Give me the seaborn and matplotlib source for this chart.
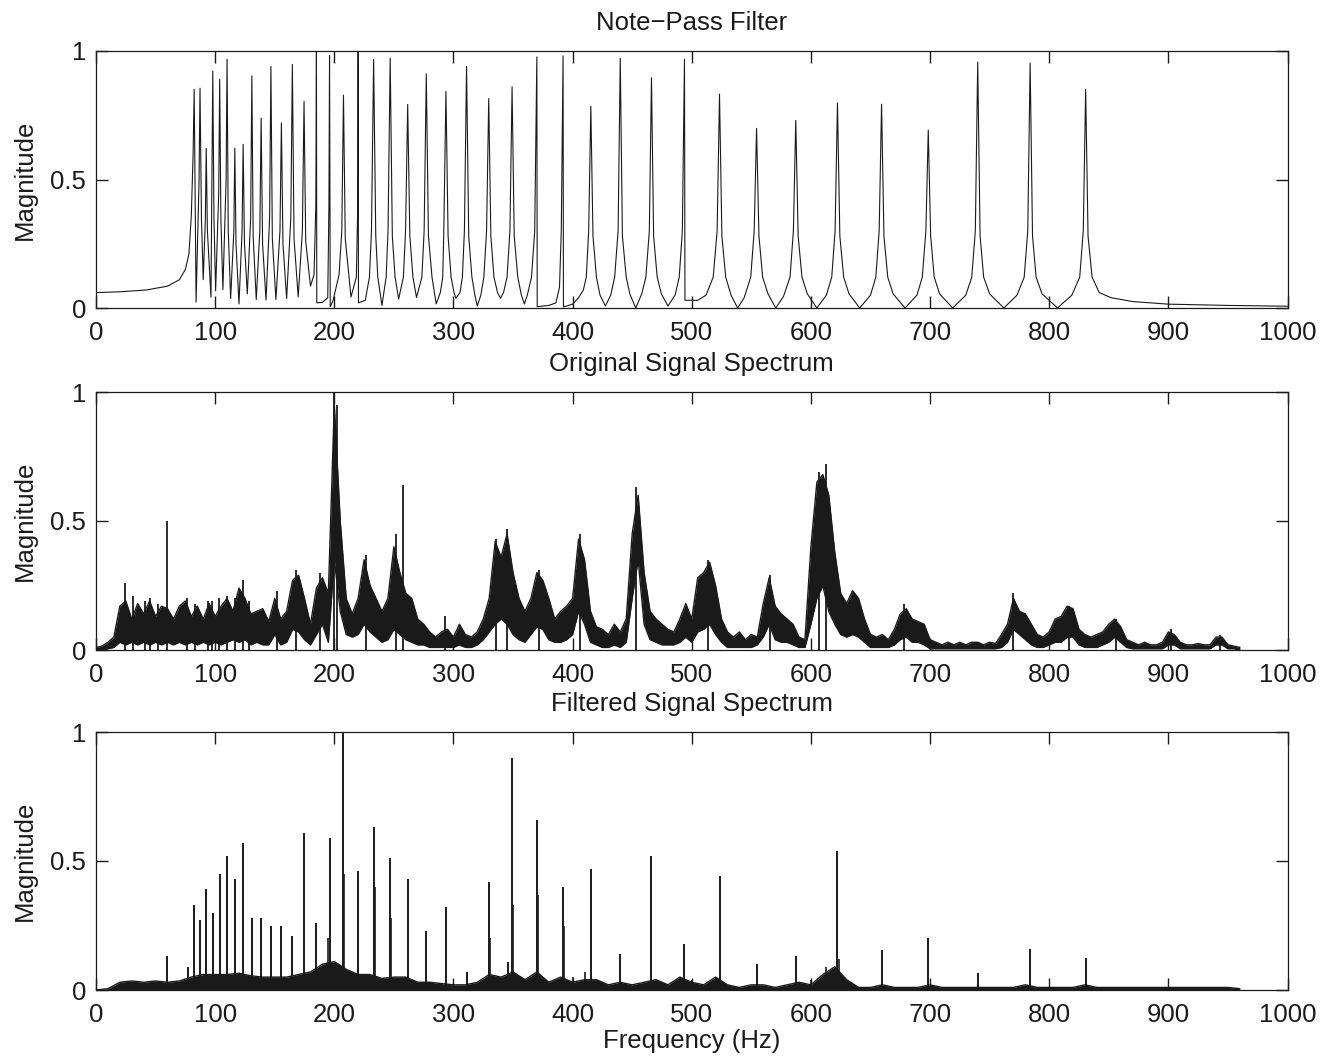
import numpy as np
import matplotlib
matplotlib.use("Agg")
import matplotlib.pyplot as plt
import seaborn as sns

# ---------------- data ----------------
# Panel 1: note-pass filter magnitude response (vertices of the curve)
filter_freq = [
    0, 20, 42, 60, 70, 75, 78, 80, 81.5, 82.4, 84, 86.5, 87.3, 88.5, 90, 91.8, 92.5, 93.5,
    96.5, 97.3, 98, 99, 100.4, 103, 103.8, 104.8, 106.5, 109.2, 110, 111, 113, 115.7, 116.5,
    117.5, 120, 122.6, 123.5, 124.6, 127, 129.8, 130.8, 131.9, 134.5, 137.5, 138.6, 139.8,
    142.7, 145.7, 146.8, 148, 151, 154.4, 155.6, 156.9, 160, 163.5, 164.8, 166.2, 169.7,
    173.2, 174.6, 176, 180, 183, 184.5, 185, 185.3, 190, 194.5, 195.5, 196, 196.6, 199,
    204, 206.3, 207.7, 209.2, 214, 218.5, 219.7, 220, 220.3,
    226, 229.5, 231.2, 233, 234.8, 236.5, 240, 243.5, 245.1, 246.9, 248.7, 251, 254, 258,
    259.8, 261.6, 263.4, 266, 269, 273.5, 275.4, 277.2, 279, 282, 285.5, 289, 291, 291.9,
    293.7, 295.5, 298, 300.5, 302, 305.5, 307.5, 309.2, 311, 312.8, 315.5, 318, 320, 323,
    325.5, 327.8, 329.6, 331.4, 334, 337, 339.5, 342, 345, 347.4, 349.2, 351, 354, 357,
    359.5, 362, 365.5, 368.2, 370, 370.3, 380, 386, 389, 390.5, 392, 392.3, 400, 405, 409,
    411.5, 413.5, 415.3, 417.1, 420, 423, 427.5, 432, 435.3, 438.2, 440, 441.8, 445, 448,
    453, 458, 461.5, 464.4, 466.2, 468, 471, 474.5, 480, 486, 489.5, 492.1, 493.9, 494.3,
    505, 512, 518, 521.3, 523.3, 525.3, 528.5, 533, 538.5, 544, 549.5, 552.4, 554.4, 556.4,
    559.5, 564, 570.5, 577, 582.5, 585.3, 587.3, 589.3, 592.5, 597, 605, 613, 617.5, 620.3,
    622.3, 624.3, 627.5, 632, 641, 650, 654.5, 657.3, 659.3, 661.3, 664.5, 669, 679, 689,
    693.5, 696.5, 698.5, 700.5, 703.5, 708, 719, 730, 735, 738, 740, 742, 745, 750, 762,
    773, 779, 782, 784, 786, 789, 794, 807, 819, 825.6, 828.6, 830.6, 832.6, 836, 842, 852,
    870, 900, 950, 1000]
filter_mag = [
    0.060, 0.063, 0.07, 0.085, 0.11, 0.15, 0.21, 0.36, 0.6, 0.851, 0.023, 0.5, 0.855, 0.35,
    0.11, 0.35, 0.621, 0.3, 0.042, 0.5, 0.922, 0.35, 0.067, 0.45, 0.89, 0.35, 0.072, 0.5,
    0.968, 0.3, 0.037, 0.3, 0.622, 0.25, 0.016, 0.3, 0.637, 0.25, 0.055, 0.35, 0.903, 0.28,
    0.033, 0.3, 0.739, 0.25, 0.031, 0.35, 0.94, 0.27, 0.033, 0.3, 0.72, 0.25, 0.037, 0.35,
    0.948, 0.27, 0.043, 0.3, 0.804, 0.26, 0.085, 0.13, 0.4, 1.0, 0.02, 0.022, 0.04, 0.4,
    0.983, 0.005, 0.03, 0.13, 0.3, 0.828, 0.27, 0.043, 0.12, 0.4, 1.0, 0.02,
    0.03, 0.12, 0.3, 0.967, 0.28, 0.12, 0.01, 0.12, 0.3, 0.972, 0.28, 0.12, 0.035, 0.12,
    0.3, 0.792, 0.28, 0.12, 0.041, 0.12, 0.3, 0.911, 0.28, 0.12, 0.016, 0.06, 0.12, 0.3,
    0.843, 0.28, 0.12, 0.06, 0.038, 0.06, 0.12, 0.3, 0.94, 0.28, 0.12, 0.05, 0.008, 0.05,
    0.12, 0.3, 0.815, 0.28, 0.12, 0.06, 0.038, 0.06, 0.12, 0.3, 0.861, 0.28, 0.12, 0.05,
    0.016, 0.05, 0.12, 0.3, 0.977, 0.005, 0.01, 0.02, 0.08, 0.3, 0.981, 0.004, 0.015, 0.04,
    0.07, 0.12, 0.3, 0.785, 0.28, 0.12, 0.05, 0.008, 0.05, 0.12, 0.3, 0.972, 0.28, 0.12,
    0.055, 0.0, 0.055, 0.12, 0.3, 0.896, 0.28, 0.12, 0.055, 0.008, 0.05, 0.12, 0.3, 0.968,
    0.03, 0.03, 0.05, 0.12, 0.3, 0.832, 0.28, 0.12, 0.05, 0.0, 0.04, 0.12, 0.3, 0.699,
    0.28, 0.12, 0.055, 0.0, 0.045, 0.12, 0.3, 0.73, 0.28, 0.12, 0.055, 0.0, 0.05, 0.12, 0.3,
    0.798, 0.28, 0.12, 0.055, 0.0, 0.05, 0.12, 0.3, 0.793, 0.28, 0.12, 0.055, 0.0, 0.05,
    0.12, 0.3, 0.692, 0.28, 0.12, 0.055, 0.0, 0.05, 0.12, 0.3, 0.957, 0.28, 0.12, 0.055,
    0.0, 0.05, 0.12, 0.3, 0.953, 0.28, 0.12, 0.055, 0.0, 0.05, 0.12, 0.3, 0.851, 0.28,
    0.12, 0.06, 0.04, 0.025, 0.015, 0.01, 0.007]

# Panel 2: original signal spectrum, min / max envelope sampled every 5 Hz (0..960)
orig_freq = np.arange(0, 961, 5)
orig_hi = [
    0.01, 0.015, 0.03, 0.05, 0.17, 0.19, 0.12, 0.18, 0.14, 0.19,
    0.13, 0.17, 0.16, 0.12, 0.17, 0.19, 0.13, 0.17, 0.12, 0.18,
    0.13, 0.17, 0.20, 0.15, 0.24, 0.20, 0.14, 0.15, 0.16, 0.11,
    0.20, 0.12, 0.15, 0.27, 0.29, 0.20, 0.10, 0.24, 0.28, 0.22,
    0.95, 0.50, 0.20, 0.14, 0.20, 0.35, 0.25, 0.20, 0.15, 0.20,
    0.40, 0.30, 0.22, 0.20, 0.12, 0.10, 0.07, 0.05, 0.07, 0.08,
    0.05, 0.10, 0.06, 0.05, 0.07, 0.12, 0.20, 0.42, 0.36, 0.45,
    0.30, 0.20, 0.15, 0.20, 0.30, 0.27, 0.20, 0.12, 0.15, 0.17,
    0.20, 0.43, 0.35, 0.15, 0.09, 0.08, 0.06, 0.10, 0.07, 0.12,
    0.45, 0.60, 0.30, 0.15, 0.12, 0.10, 0.08, 0.07, 0.12, 0.18,
    0.12, 0.28, 0.30, 0.34, 0.25, 0.12, 0.07, 0.05, 0.07, 0.04,
    0.06, 0.05, 0.18, 0.28, 0.17, 0.14, 0.12, 0.10, 0.05, 0.04,
    0.40, 0.65, 0.68, 0.60, 0.38, 0.22, 0.18, 0.23, 0.20, 0.12,
    0.06, 0.05, 0.06, 0.04, 0.08, 0.14, 0.16, 0.12, 0.11, 0.10,
    0.04, 0.03, 0.02, 0.03, 0.02, 0.03, 0.02, 0.03, 0.03, 0.02,
    0.03, 0.025, 0.06, 0.10, 0.20, 0.15, 0.14, 0.10, 0.06, 0.05,
    0.07, 0.12, 0.13, 0.17, 0.16, 0.08, 0.06, 0.05, 0.06, 0.07,
    0.10, 0.12, 0.09, 0.04, 0.03, 0.02, 0.03, 0.02, 0.02, 0.03,
    0.07, 0.06, 0.03, 0.02, 0.02, 0.025, 0.02, 0.02, 0.05, 0.05,
    0.02, 0.015, 0.01]
orig_lo = [
    0.0, 0.0, 0.005, 0.01, 0.03, 0.02, 0.03, 0.02, 0.03, 0.02,
    0.03, 0.02, 0.03, 0.02, 0.03, 0.02, 0.03, 0.02, 0.03, 0.02,
    0.03, 0.02, 0.03, 0.04, 0.03, 0.04, 0.02, 0.03, 0.02, 0.02,
    0.06, 0.02, 0.03, 0.08, 0.07, 0.04, 0.02, 0.06, 0.10, 0.03,
    0.35, 0.15, 0.06, 0.05, 0.06, 0.10, 0.07, 0.05, 0.03, 0.04,
    0.08, 0.06, 0.04, 0.03, 0.02, 0.02, 0.01, 0.01, 0.01, 0.01,
    0.01, 0.02, 0.01, 0.01, 0.02, 0.04, 0.07, 0.10, 0.12, 0.10,
    0.06, 0.04, 0.03, 0.06, 0.09, 0.08, 0.04, 0.03, 0.03, 0.04,
    0.06, 0.15, 0.10, 0.03, 0.02, 0.01, 0.01, 0.02, 0.01, 0.03,
    0.20, 0.35, 0.10, 0.04, 0.03, 0.02, 0.02, 0.02, 0.03, 0.05,
    0.03, 0.07, 0.08, 0.10, 0.06, 0.03, 0.01, 0.01, 0.01, 0.01,
    0.01, 0.02, 0.05, 0.10, 0.04, 0.03, 0.03, 0.02, 0.01, 0.01,
    0.10, 0.20, 0.25, 0.15, 0.10, 0.06, 0.05, 0.06, 0.05, 0.03,
    0.01, 0.01, 0.01, 0.01, 0.02, 0.04, 0.05, 0.03, 0.03, 0.02,
    0.005, 0.005, 0.005, 0.005, 0.005, 0.005, 0.005, 0.005, 0.005, 0.005,
    0.005, 0.005, 0.01, 0.03, 0.08, 0.06, 0.04, 0.02, 0.01, 0.01,
    0.02, 0.03, 0.03, 0.05, 0.05, 0.02, 0.01, 0.01, 0.01, 0.02,
    0.03, 0.05, 0.03, 0.01, 0.005, 0.005, 0.005, 0.005, 0.005, 0.005,
    0.02, 0.02, 0.005, 0.005, 0.005, 0.005, 0.005, 0.005, 0.02, 0.02,
    0.005, 0.005, 0.0]
# isolated spikes of the original spectrum
orig_spike_freq = [24, 31, 41, 45, 52, 60, 76, 83, 94, 97, 103, 110, 117, 123, 128, 152,
                   168, 188, 200, 202, 227, 252, 258, 293, 336, 345, 372, 406, 453, 514,
                   566, 607, 613, 678, 770, 817, 856, 902, 943]
orig_spike_mag = [0.26, 0.21, 0.19, 0.2, 0.18, 0.50, 0.20, 0.18, 0.19, 0.19, 0.2, 0.21,
                  0.2, 0.27, 0.19, 0.23, 0.31, 0.30, 1.0, 0.95, 0.37, 0.45, 0.64, 0.13,
                  0.43, 0.47, 0.31, 0.45, 0.63, 0.35, 0.29, 0.69, 0.72, 0.18, 0.22, 0.17,
                  0.12, 0.08, 0.06]

# Panel 3: filtered signal spectrum, noise floor every 10 Hz (0..960) and peaks
filt_freq = np.arange(0, 961, 10)
filt_floor = [
    0.0, 0.005, 0.03, 0.035, 0.03, 0.035, 0.03, 0.035, 0.05, 0.06,
    0.06, 0.06, 0.065, 0.055, 0.05, 0.05, 0.05, 0.06, 0.07, 0.10,
    0.11, 0.08, 0.06, 0.06, 0.045, 0.05, 0.05, 0.03, 0.03, 0.025,
    0.02, 0.02, 0.03, 0.06, 0.05, 0.07, 0.04, 0.07, 0.03, 0.05,
    0.03, 0.04, 0.04, 0.02, 0.03, 0.02, 0.03, 0.04, 0.02, 0.05,
    0.03, 0.02, 0.05, 0.02, 0.01, 0.02, 0.02, 0.01, 0.02, 0.03,
    0.02, 0.06, 0.09, 0.04, 0.01, 0.01, 0.02, 0.01, 0.01, 0.01,
    0.02, 0.01, 0.01, 0.01, 0.01, 0.01, 0.01, 0.01, 0.02, 0.01,
    0.01, 0.01, 0.01, 0.02, 0.01, 0.01, 0.01, 0.01, 0.01, 0.01,
    0.01, 0.01, 0.01, 0.01, 0.01, 0.01, 0.005]
filt_peak_freq = [60, 77, 82.4, 87.3, 92.5, 98, 103.8, 110, 116.5, 123.5, 130.8, 138.6,
                  146.8, 155.6, 164.8, 174.6, 185, 196, 207.7, 220, 233, 246.9, 261.6,
                  277.2, 293.7, 311, 329.6, 346, 349.2, 370, 392, 415.3, 440, 466.2,
                  493.9, 523.3, 554.4, 587.3, 622.3, 659.3, 698.5, 740, 784, 830.6]
filt_peak_mag = [0.13, 0.09, 0.33, 0.27, 0.39, 0.30, 0.45, 0.52, 0.43, 0.57, 0.28, 0.28,
                 0.25, 0.25, 0.21, 0.61, 0.26, 0.59, 1.0, 0.46, 0.63, 0.51, 0.43, 0.23,
                 0.32, 0.07, 0.42, 0.11, 0.90, 0.66, 0.40, 0.47, 0.14, 0.52, 0.18, 0.44,
                 0.10, 0.13, 0.54, 0.155, 0.20, 0.065, 0.16, 0.125]
filt_side_freq = [195, 208.5, 234, 248, 330.5, 350.3, 371, 393, 400.5, 410, 500, 600, 613, 624]
filt_side_mag = [0.2, 0.45, 0.4, 0.28, 0.2, 0.33, 0.37, 0.25, 0.05, 0.07, 0.04, 0.04, 0.09, 0.12]

titles = ["Note\u2212Pass Filter", "Original Signal Spectrum", "Filtered Signal Spectrum"]
xticks = list(range(0, 1001, 100))
xtick_labels = [str(t) for t in xticks]
yticks = [0, 0.5, 1]
ytick_labels = ["0", "0.5", "1"]

# ---------------- drawing ----------------
sns.set_theme(style="ticks")
plt.rcParams["font.family"] = ["Liberation Sans", "DejaVu Sans"]
plt.rcParams.update({"text.color": "k", "axes.labelcolor": "k",
                     "xtick.color": "k", "ytick.color": "k"})

FS = 18.5
fig = plt.figure(figsize=(13.34, 10.59), dpi=100)
W, H = 1334.0, 1059.0
boxes = [(51, 308), (392, 650), (732, 990)]
axes = []
for top, bot in boxes:
    ax = fig.add_axes([96 / W, 1 - bot / H, (1287.5 - 96) / W, (bot - top) / H])
    axes.append(ax)

# Panel 1
sns.lineplot(x=filter_freq, y=filter_mag, ax=axes[0], color="k", lw=0.8,
             estimator=None, sort=False)
# Panel 2
ax = axes[1]
ax.fill_between(orig_freq, orig_lo, orig_hi, color="k", lw=0)
sns.lineplot(x=orig_freq, y=orig_hi, ax=ax, color="k", lw=1.0, estimator=None, sort=False)
sns.lineplot(x=orig_freq, y=orig_lo, ax=ax, color="k", lw=1.0, estimator=None, sort=False)
ax.vlines(orig_spike_freq, 0, orig_spike_mag, color="k", lw=1.3)
# Panel 3
ax = axes[2]
ax.fill_between(filt_freq, 0, filt_floor, color="k", lw=0)
sns.lineplot(x=filt_freq, y=filt_floor, ax=ax, color="k", lw=1.0, estimator=None, sort=False)
ax.vlines(filt_peak_freq, 0, filt_peak_mag, color="k", lw=1.4)
ax.vlines(filt_side_freq, 0, filt_side_mag, color="k", lw=1.2)

for i, ax in enumerate(axes):
    ax.set_xlim(0, 1000)
    ax.set_ylim(0, 1)
    ax.set_xticks(xticks, labels=xtick_labels)
    ax.set_yticks(yticks, labels=ytick_labels)
    ax.tick_params(axis="x", direction="in", length=8.5, width=1.0, color="k",
                   labelcolor="k", labelsize=FS, pad=9, top=True, bottom=True)
    ax.tick_params(axis="y", direction="in", length=8.5, width=1.0, color="k",
                   labelcolor="k", labelsize=FS, pad=7, left=True, right=True)
    for s in ax.spines.values():
        s.set_visible(True)
        s.set_color("k")
        s.set_linewidth(0.9)
    ax.set_ylabel("Magnitude", fontsize=FS, labelpad=10, color="k")
    ax.set_xlabel("")
    ax.set_title(titles[i], fontsize=FS, pad=15, color="k")

axes[2].set_xlabel("Frequency (Hz)", fontsize=FS, labelpad=2, color="k")

fig.savefig("out.png", dpi=100, facecolor="white")
